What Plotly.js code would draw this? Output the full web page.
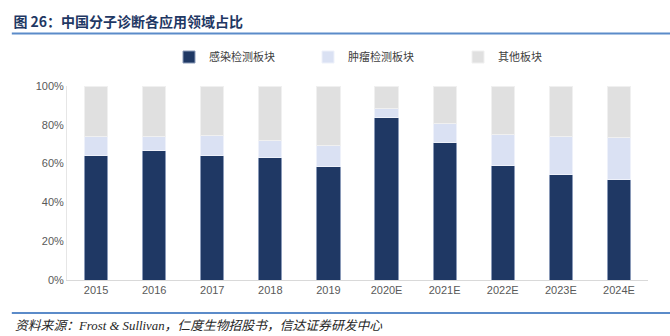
<!DOCTYPE html>
<html><head><meta charset="utf-8">
<script src="https://cdn.plot.ly/plotly-3.0.1.min.js"></script>
<style>html,body{margin:0;padding:0;background:#fff}#c{width:670px;height:336px}</style>
</head><body><div id="c"></div>
<script>
const categories = ['2015','2016','2017','2018','2019','2020E','2021E','2022E','2023E','2024E'];
const infection = [64.3,66.5,64.4,62.9,58.6,83.7,70.8,59.1,54.3,51.9];
const tumor = [9.6,7.6,10.0,9.1,10.6,4.8,10.1,16.0,19.8,21.6];
const other = [26.1,25.9,25.6,28.0,30.8,11.5,19.1,24.9,25.9,26.5];
const seriesNames = ['感染检测板块','肿瘤检测板块','其他板块'];
const tickVals = [0,20,40,60,80,100];
const tickText = ['0%','20%','40%','60%','80%','100%'];

const colors = ['#1F3864','#DAE1F3','#E0E0E0'];
const lineColors = ['#8A9AB8','#EEF1FA','#F0F0F0'];
const legendIds = ['legend','legend2','legend3'];
const data = [infection, tumor, other].map((v,i)=>({
  type:'bar', x:categories, y:v, name:seriesNames[i], legend:legendIds[i],
  marker:{color:colors[i], line:{color:lineColors[i], width:1}},
  hoverinfo:'skip'
}));

const legendBase = (x) => ({orientation:'h', xref:'container', yref:'container', x:x, xanchor:'left',
  y:1-57/336, yanchor:'middle', itemwidth:30, bgcolor:'rgba(0,0,0,0)',
  font:{size:11, color:'#404040', family:'"Noto Sans CJK SC", serif'}});

const layout = {
  width:670, height:336,
  margin:{l:67, r:22, t:86, b:56},
  barmode:'stack', bargap:0.6,
  paper_bgcolor:'#fff', plot_bgcolor:'#fff',
  font:{family:'"Noto Sans CJK SC", "Liberation Sans", sans-serif', size:11, color:'#595959'},
  showlegend:true,
  legend:legendBase(169/670),
  legend2:legendBase(308/670),
  legend3:legendBase(458/670),
  xaxis:{type:'category', showline:true, linecolor:'#D9D9D9', linewidth:1, ticks:'',
    tickfont:{family:'"Liberation Sans", Arial, sans-serif', size:11, color:'#595959'}, fixedrange:true},
  yaxis:{range:[0,100], tickvals:tickVals, ticktext:tickText, showgrid:false, zeroline:false,
    showline:true, linecolor:'#E6E6E6', linewidth:1, ticks:'',
    tickfont:{family:'"Liberation Sans", Arial, sans-serif', size:11, color:'#595959'}, fixedrange:true},
  title:{text:'<b>图 26：中国分子诊断各应用领域占比</b>', x:0.02, xanchor:'left', y:0.935, yanchor:'middle',
    font:{family:'"Noto Sans CJK SC", serif', size:14, color:'#1F3864'}},
  shapes:[
    {type:'line', xref:'paper', yref:'paper', x0:-0.095, x1:1.038, y0:1.27, y1:1.27, line:{color:'#5B8BC9', width:2}},
    {type:'line', xref:'paper', yref:'paper', x0:-0.095, x1:1.038, y0:-0.17, y1:-0.17, line:{color:'#5B8BC9', width:2}}
  ],
  annotations:[
    {text:'<i>资料来源：Frost & Sullivan，仁度生物招股书，信达证券研发中心</i>', xref:'paper', yref:'paper',
     x:-0.093, xanchor:'left', y:-0.238, yanchor:'middle', showarrow:false,
     font:{family:'"Liberation Serif", "Noto Sans CJK SC", serif', size:12.8, color:'#262626'}}
  ]
};
Plotly.newPlot('c', data, layout, {displayModeBar:false, staticPlot:true});
</script></body></html>
